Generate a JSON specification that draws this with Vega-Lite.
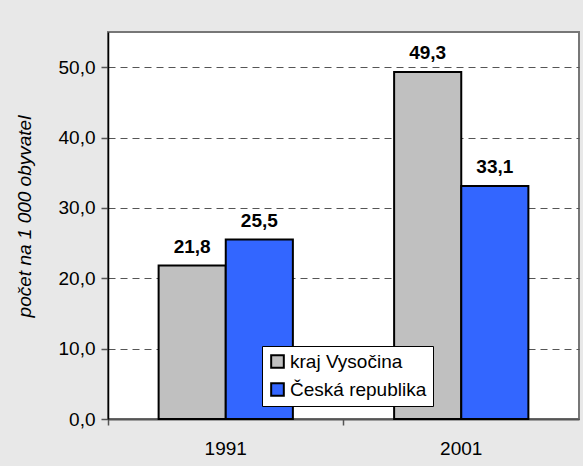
{
  "$schema": "https://vega.github.io/schema/vega-lite/v6.json",
  "width": 471,
  "height": 387,
  "autosize": {"type": "none"},
  "padding": {"left": 108, "top": 32, "right": 4, "bottom": 47},
  "background": "#e8e8e8",
  "config": {
    "font": "Liberation Sans",
    "view": {"fill": "white", "stroke": "#777", "strokeWidth": 2},
    "locale": {"number": {"decimal": ",", "thousands": " ", "grouping": [3], "currency": ["", " Kč"]}}
  },
  "data": {
    "values": [
      {"rok": "1991", "uzemi": "kraj Vysočina", "hodnota": 21.8},
      {"rok": "1991", "uzemi": "Česká republika", "hodnota": 25.5},
      {"rok": "2001", "uzemi": "kraj Vysočina", "hodnota": 49.3},
      {"rok": "2001", "uzemi": "Česká republika", "hodnota": 33.1}
    ]
  },
  "encoding": {
    "x": {
      "field": "rok",
      "type": "nominal",
      "scale": {"paddingInner": 0, "paddingOuter": 0},
      "axis": {
        "title": null,
        "labelAngle": 0,
        "labelFontSize": 19,
        "labelColor": "black",
        "bandPosition": 0,
        "domainColor": "#555",
        "domainWidth": 2,
        "tickColor": "#555",
        "tickWidth": 1.5,
        "tickSize": 6,
        "labelPadding": 14
      }
    },
    "xOffset": {
      "field": "uzemi",
      "type": "nominal",
      "sort": ["kraj Vysočina", "Česká republika"],
      "scale": {"paddingInner": 0, "paddingOuter": 0.754}
    },
    "y": {
      "field": "hodnota",
      "type": "quantitative",
      "scale": {"domain": [0, 55], "nice": false},
      "axis": {
        "values": [0, 10, 20, 30, 40, 50],
        "format": ".1f",
        "title": "počet na 1 000 obyvatel",
        "titleFontStyle": "italic",
        "titleFontWeight": "normal",
        "titleFontSize": 19,
        "titleColor": "black",
        "titlePadding": 24,
        "titleY": 184,
        "labelFontSize": 19,
        "labelColor": "black",
        "labelPadding": 6,
        "domainColor": "black",
        "domainWidth": 1.5,
        "tickColor": "#555",
        "tickWidth": 1.5,
        "tickSize": 7,
        "grid": true,
        "gridDash": [7, 5],
        "gridColor": "#555",
        "gridWidth": 1
      }
    }
  },
  "layer": [
    {
      "mark": {"type": "bar", "stroke": "black", "strokeWidth": 2},
      "encoding": {
        "color": {
          "field": "uzemi",
          "type": "nominal",
          "sort": ["kraj Vysočina", "Česká republika"],
          "scale": {"domain": ["kraj Vysočina", "Česká republika"], "range": ["#c0c0c0", "#3366ff"]},
          "legend": {
            "title": null,
            "orient": "none",
            "legendX": 154,
            "legendY": 314,
            "fillColor": "white",
            "strokeColor": "black",
            "padding": 6,
            "labelFontSize": 19,
            "labelColor": "black",
            "labelOffset": 3,
            "symbolType": "square",
            "symbolSize": 160,
            "symbolStrokeColor": "black",
            "symbolStrokeWidth": 2,
            "symbolOpacity": 1,
            "rowPadding": 7
          }
        }
      }
    },
    {
      "mark": {"type": "text", "baseline": "bottom", "dy": -9, "fontWeight": "bold", "fontSize": 19, "color": "black"},
      "encoding": {
        "text": {"field": "hodnota", "type": "quantitative", "format": ".1f"}
      }
    }
  ]
}
